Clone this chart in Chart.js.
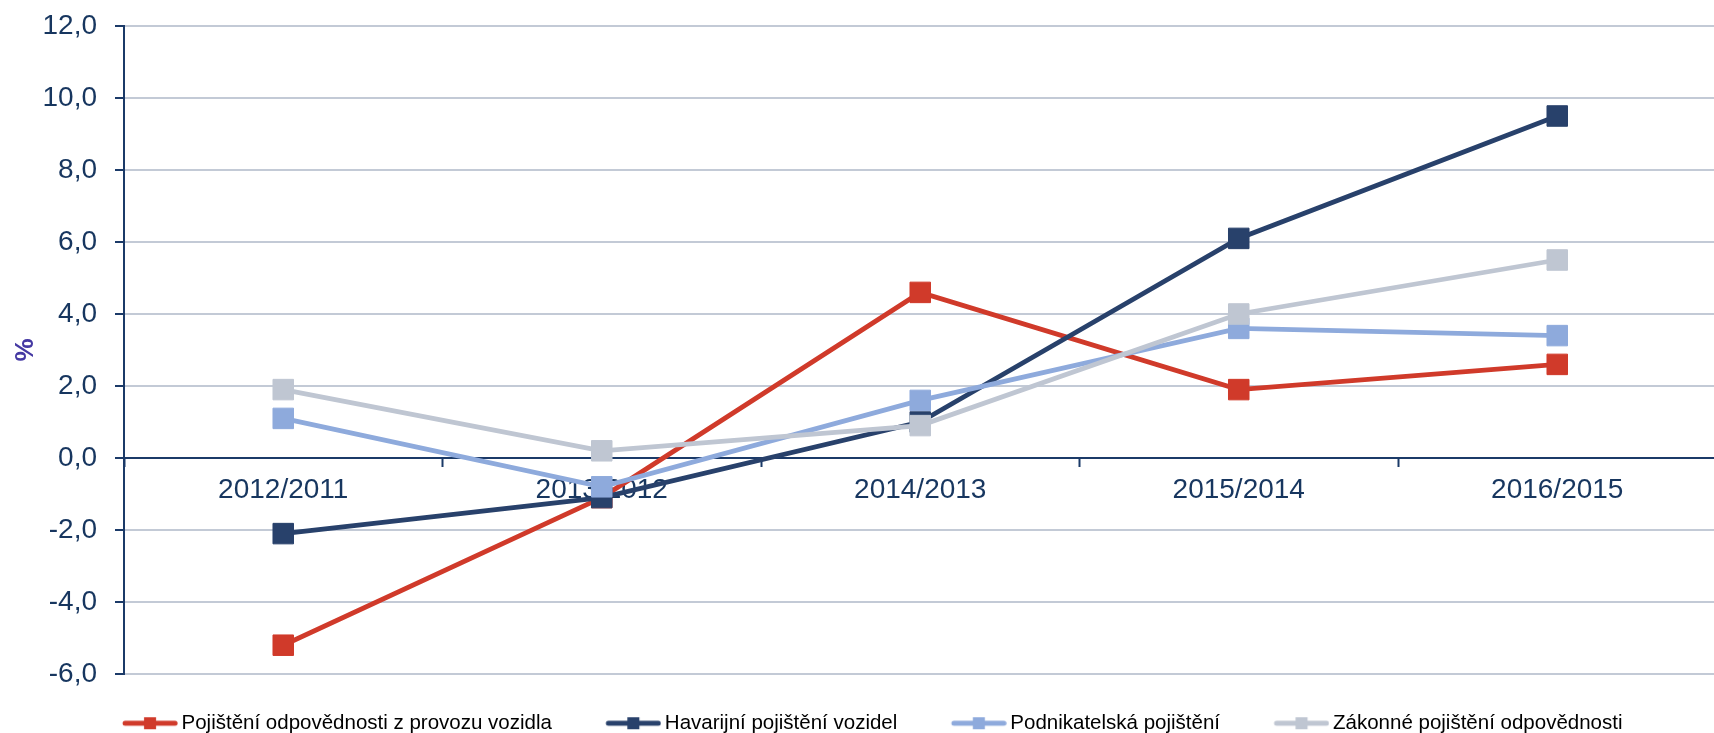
<!DOCTYPE html>
<html>
<head>
<meta charset="utf-8">
<script src="https://cdn.jsdelivr.net/npm/chart.js@4.4.1/dist/chart.umd.min.js"></script>
<style>
html,body{margin:0;padding:0;background:#fff;overflow:hidden;width:1714px;height:733px}
canvas{display:block}
</style>
</head>
<body>
<canvas id="c" width="1732" height="733"></canvas>
<script>
// ---- data ----
const categories = ['2012/2011', '2013/2012', '2014/2013', '2015/2014', '2016/2015'];
const seriesNames = [
  'Pojištění odpovědnosti z provozu vozidla',
  'Havarijní pojištění vozidel',
  'Podnikatelská pojištění',
  'Zákonné pojištění odpovědnosti'
];
const odpovednostProvoz = [-5.2, -1.1, 4.6, 1.9, 2.6];
const havarijni = [-2.1, -1.1, 1.0, 6.1, 9.5];
const podnikatelska = [1.1, -0.8, 1.6, 3.6, 3.4];
const zakonne = [1.9, 0.2, 0.9, 4.0, 5.5];
const yMin = -6, yMax = 12, yStep = 2;
const yTitle = '%';

// ---- styles ----
const colors = ['#D03A2A', '#28416B', '#8EAADC', '#BFC6D2'];
const navy = '#1B3A68';
const textNavy = '#17365F';
const gridColor = '#C3CAD6';
const FONT = "'Liberation Sans', Arial, sans-serif";

const legendGap = 15;          // empty space before each legend line
const legendLine = 55;
const legendBoxW = 48.75 + legendGap;

function legendIcon(color) {
  const imgW = Math.ceil(2 * (legendGap + legendLine - legendBoxW / 2));
  const c = document.createElement('canvas');
  c.width = imgW; c.height = 14;
  const g = c.getContext('2d');
  const x0 = imgW / 2 - legendBoxW / 2 + legendGap;
  g.strokeStyle = color; g.lineWidth = 5; g.lineCap = 'round';
  g.beginPath(); g.moveTo(x0 + 2.5, 7); g.lineTo(x0 + legendLine - 2.5, 7); g.stroke();
  g.fillStyle = color;
  g.fillRect(x0 + legendLine / 2 - 6, 1, 12, 12);
  return c;
}
const icons = colors.map(legendIcon);

const seriesData = [odpovednostProvoz, havarijni, podnikatelska, zakonne];

const datasets = seriesData.map((d, i) => ({
  label: seriesNames[i],
  data: d,
  borderColor: colors[i],
  backgroundColor: colors[i],
  borderWidth: 4.8,
  pointStyle: 'rect',
  pointRadius: 14.5,
  pointHoverRadius: 14.5,
  pointBorderWidth: 1,
  pointBorderColor: colors[i],
  pointBackgroundColor: colors[i],
  tension: 0,
  order: 3 - i
}));

new Chart(document.getElementById('c'), {
  type: 'line',
  data: { labels: categories, datasets },
  options: {
    responsive: false,
    animation: false,
    events: [],
    layout: { padding: { top: 26, left: 0, right: 2, bottom: -10.5 } },
    plugins: {
      tooltip: { enabled: false },
      legend: {
        position: 'bottom',
        labels: {
          usePointStyle: true,
          pointStyleWidth: legendBoxW,
          padding: 39,
          color: textNavy,
          font: { family: FONT, size: 20.5 },
          generateLabels: (chart) => chart.data.datasets.map((ds, i) => ({
            text: ds.label,
            pointStyle: icons[i],
            fillStyle: ds.borderColor,
            strokeStyle: ds.borderColor,
            lineWidth: 0,
            hidden: !chart.isDatasetVisible(i),
            datasetIndex: i
          }))
        }
      }
    },
    scales: {
      x: {
        type: 'category',
        position: { y: 0 },
        offset: true,
        z: 1,
        grid: { display: true, drawOnChartArea: false, drawTicks: true, tickLength: 8, tickColor: navy, tickWidth: 2, offset: true },
        border: { display: true, color: navy, width: 2 },
        ticks: { color: textNavy, font: { family: FONT, size: 28 }, padding: 7, maxRotation: 0, autoSkip: false }
      },
      y: {
        min: yMin, max: yMax,
        afterFit: (s) => { s.width = 124; s.paddingTop = 0; s.paddingBottom = 0; },
        grid: { color: gridColor, lineWidth: 2, drawTicks: true, tickLength: 9, tickColor: navy, tickWidth: 2 },
        border: { display: true, color: navy, width: 2 },
        ticks: {
          stepSize: yStep,
          color: textNavy,
          font: { family: FONT, size: 28 },
          padding: 18,
          callback: (v) => v.toFixed(1).replace('.', ',')
        },
        title: {
          display: true, text: yTitle, color: '#4539A3',
          font: { family: FONT, size: 26, weight: 'bold' },
          padding: { top: 10, bottom: 0 }
        }
      }
    }
  }
});
</script>
</body>
</html>
